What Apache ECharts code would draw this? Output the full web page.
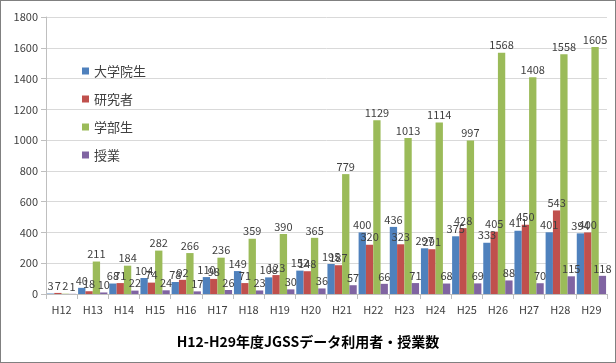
<!DOCTYPE html>
<html><head><meta charset="utf-8">
<script src="https://cdn.jsdelivr.net/npm/echarts@6/dist/echarts.min.js"></script>
<style>
html,body{margin:0;padding:0;background:#fff;}
#c{position:absolute;left:0;top:0;width:614px;height:361px;border:1px solid #808080;}
</style></head>
<body><div id="c"></div>
<script>
const categories = ['H12','H13','H14','H15','H16','H17','H18','H19','H20','H21','H22','H23','H24','H25','H26','H27','H28','H29'];
const graduate = [3,40,68,104,78,110,149,108,152,195,400,436,297,375,333,411,401,394];
const researcher = [7,18,71,74,92,98,71,123,148,187,320,323,291,428,405,450,543,400];
const undergrad = [2,211,184,282,266,236,359,390,365,779,1129,1013,1114,997,1568,1408,1558,1605];
const classes = [1,10,22,24,17,26,23,30,36,57,66,71,68,69,88,70,115,118];
const seriesNames = ['大学院生','研究者','学部生','授業'];
const colors = ['#4F81BD','#C0504D','#9BBB59','#8064A2'];
const titleText = 'H12-H29年度JGSSデータ利用者・授業数';

const font = "'Noto Sans CJK JP','Noto Sans',sans-serif";
const chart = echarts.init(document.getElementById('c'));
const mk = (name, data, i) => ({
  name, type:'bar', data,
  itemStyle:{color:colors[i]},
  barGap:'0%', barCategoryGap:'6%',
  label:{show:true, position:'top', distance:2, color:'#404040', fontSize:11, fontFamily:font},
  labelLayout:{hideOverlap:false}
});
chart.setOption({
  animation:false,
  textStyle:{fontFamily:font},
  title:{text:titleText, left:'center', top:329,
    textStyle:{fontSize:14, fontWeight:'bold', color:'#000', fontFamily:font}},
  legend:{orient:'vertical', left:76, top:57, itemGap:12, itemWidth:7, itemHeight:7,
    icon:'rect', textStyle:{fontSize:13, color:'#404040', fontFamily:font, lineHeight:16}},
  grid:{left:45, right:8, top:16, bottom:68},
  xAxis:{type:'category', data:categories,
    axisLine:{lineStyle:{color:'#bfbfbf'}},
    axisTick:{show:true, length:5, lineStyle:{color:'#bfbfbf'}},
    axisLabel:{color:'#404040', fontSize:11, margin:10, fontFamily:font}},
  yAxis:{type:'value', min:0, max:1800, interval:200,
    axisLine:{show:true, lineStyle:{color:'#bfbfbf'}},
    axisTick:{show:true, length:5, lineStyle:{color:'#bfbfbf'}},
    splitLine:{lineStyle:{color:'#d9d9d9'}},
    axisLabel:{color:'#404040', fontSize:11, margin:8, fontFamily:font, formatter:v=>String(v)}},
  series:[mk(seriesNames[0],graduate,0), mk(seriesNames[1],researcher,1), mk(seriesNames[2],undergrad,2), mk(seriesNames[3],classes,3)]
});
</script></body></html>
